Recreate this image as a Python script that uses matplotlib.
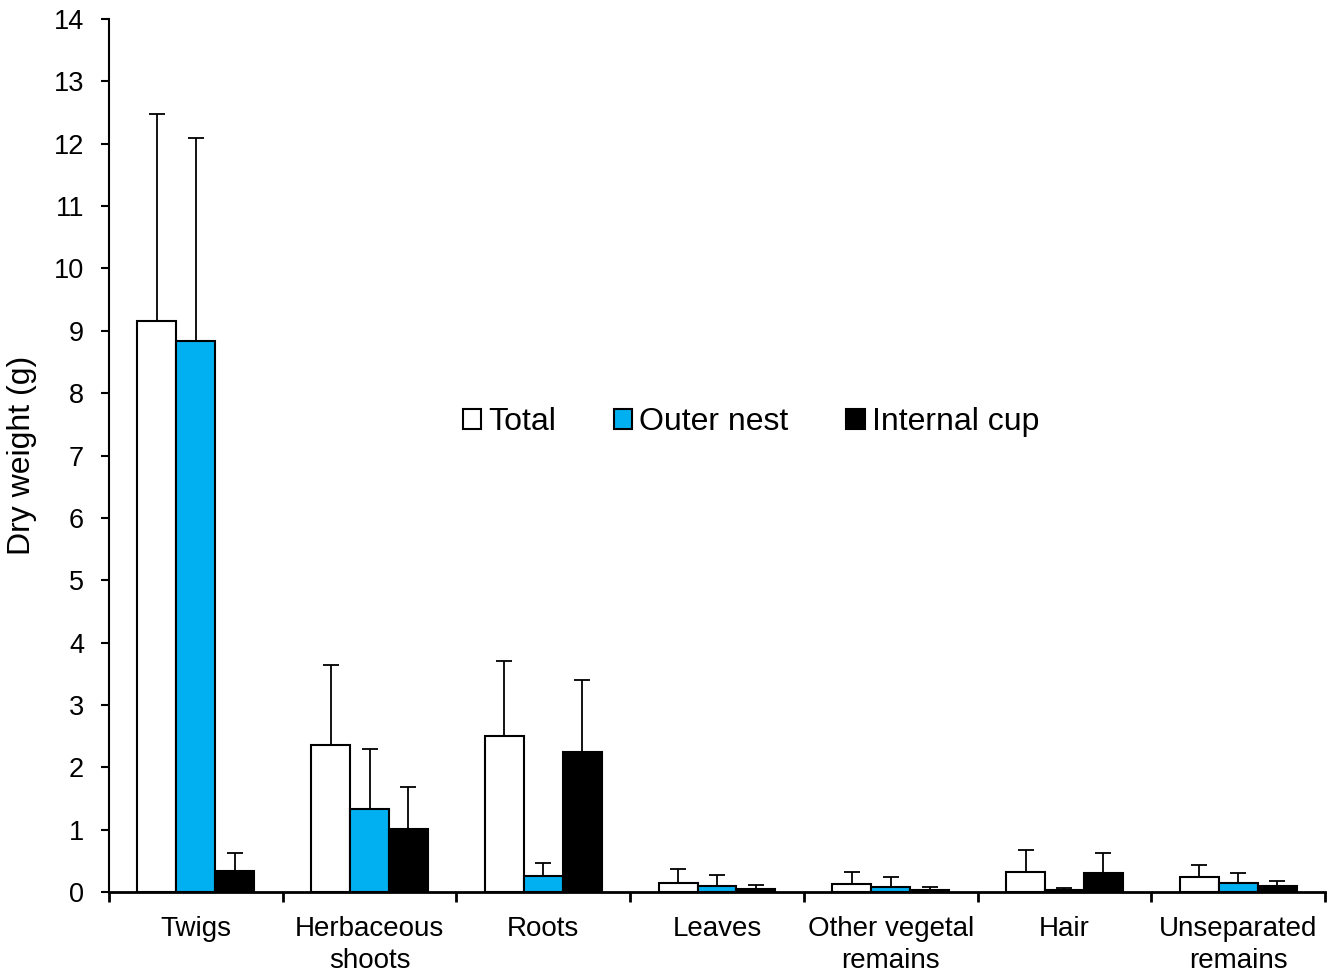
import numpy as np
import matplotlib.pyplot as plt

plt.rcParams['font.family'] = ['Liberation Sans', 'DejaVu Sans']

categories = ["Twigs", "Herbaceous\nshoots", "Roots", "Leaves",
              "Other vegetal\nremains", "Hair", "Unseparated\nremains"]

total = [9.16, 2.36, 2.50, 0.15, 0.13, 0.32, 0.24]
total_err = [3.32, 1.28, 1.20, 0.22, 0.19, 0.36, 0.20]

outer = [8.84, 1.33, 0.26, 0.10, 0.085, 0.04, 0.14]
outer_err = [3.25, 0.96, 0.21, 0.17, 0.155, 0.03, 0.16]

internal = [0.34, 1.01, 2.25, 0.05, 0.04, 0.30, 0.10]
internal_err = [0.29, 0.67, 1.15, 0.07, 0.045, 0.32, 0.07]

series = [
    ("Total", total, total_err, "white"),
    ("Outer nest", outer, outer_err, "#00B0F0"),
    ("Internal cup", internal, internal_err, "black"),
]

fig = plt.figure(figsize=(13.35, 9.75), dpi=100)
ax = fig.add_axes([109 / 1335, 1 - 892 / 975, (1325 - 109) / 1335, (892 - 19) / 975])

x = np.arange(len(categories))
w = 0.224
for i, (name, vals, errs, col) in enumerate(series):
    pos = x + (i - 1) * w
    ax.bar(pos, vals, w, color=col, edgecolor="black", linewidth=1.5,
           label=name, zorder=2)
    ax.errorbar(pos, vals, yerr=[np.zeros(len(errs)), errs], fmt="none",
                ecolor="black", elinewidth=1.3, capsize=6, capthick=1.3,
                zorder=1)

ax.set_xlim(-0.5, len(categories) - 0.5)
ax.set_ylim(0, 14)
ax.set_yticks(range(0, 15))
ax.tick_params(axis="y", labelsize=19.5, direction="out", length=6, width=1.5,
               pad=12)
ax.set_xticks(x)
ax.set_xticklabels(categories, fontsize=20, linespacing=1.3)
ax.tick_params(axis="x", length=0, pad=17)
# category separator ticks below the axis
ax.set_xticks(np.arange(len(categories) + 1) - 0.5, minor=True)
ax.tick_params(axis="x", which="minor", direction="out", length=7.5, width=2)

for s in ("top", "right"):
    ax.spines[s].set_visible(False)
ax.spines["left"].set_linewidth(1.5)
ax.spines["bottom"].set_linewidth(2)

ax.set_ylabel("Dry weight (g)", fontsize=23)
ax.yaxis.set_label_coords(-0.059, 0.5)

ax.legend(loc="center", bbox_to_anchor=(0.528, 0.538), ncol=3, frameon=False,
          fontsize=23, handlelength=0.58, handleheight=0.58, handletextpad=0.22,
          columnspacing=1.8)

fig.savefig("out.png", dpi=100)
